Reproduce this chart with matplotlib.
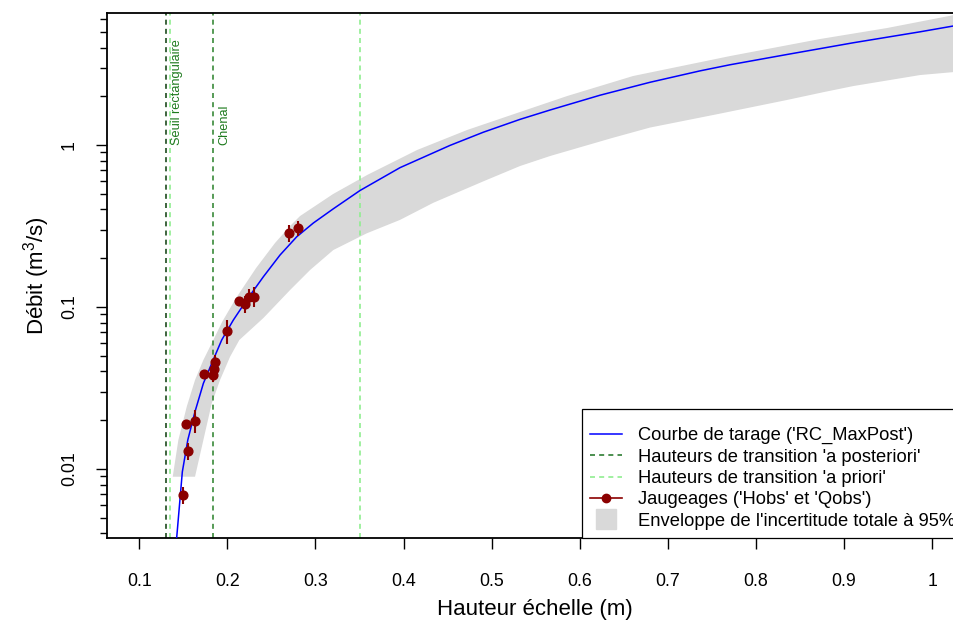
import matplotlib
matplotlib.use("Agg")
import matplotlib.pyplot as plt
from matplotlib.lines import Line2D
from matplotlib.ticker import FixedLocator, NullFormatter

plt.rcParams['font.family'] = ['Liberation Sans', 'DejaVu Sans']

# gaugings (Hobs, Qobs) and their uncertainty (half width, % of Q)
h_obs = [0.1497, 0.1550, 0.1535, 0.1630, 0.1736, 0.1834, 0.1853, 0.1864,
         0.1997, 0.2137, 0.2198, 0.2250, 0.2300, 0.2700, 0.2799]
q_obs = [0.00692, 0.0130, 0.0190, 0.0199, 0.0387, 0.0380, 0.0412, 0.0457,
         0.0714, 0.1094, 0.1045, 0.1148, 0.1158, 0.2877, 0.3076]
u_obs = [12, 12, 5, 16, 5, 9, 12, 10, 17, 5, 12, 12, 14, 12, 11]

# maxpost rating curve
h_rc = [0.1420, 0.1489, 0.1551, 0.1633, 0.1728, 0.1823, 0.1936, 0.2068, 0.2220,
        0.2409, 0.2598, 0.2788, 0.2976, 0.3203, 0.3506, 0.3960, 0.4528, 0.4906,
        0.5322, 0.5663, 0.6230, 0.6798, 0.7366, 0.7706, 0.8350, 0.9106, 0.9863,
        1.0248]
q_rc = [0.0035, 0.0096, 0.0151, 0.0226, 0.0338, 0.0449, 0.0626, 0.0831, 0.1105,
        0.1538, 0.2094, 0.2716, 0.330, 0.404, 0.524, 0.725, 0.995, 1.20,
        1.44, 1.645, 2.03, 2.44, 2.87, 3.13, 3.62, 4.28, 5.00, 5.44]

# 95% total uncertainty envelope
h_env_up = [0.1380, 0.1444, 0.1539, 0.1633, 0.1728, 0.1841, 0.1940, 0.2099,
            0.2326, 0.2541, 0.2712, 0.2825, 0.3200, 0.3586, 0.4153, 0.4721,
            0.5322, 0.5856, 0.6605, 0.7706, 0.8727, 0.9488, 1.0248]
q_env_up = [0.00896, 0.0151, 0.02424, 0.03542, 0.04709, 0.06256, 0.0808, 0.1136,
            0.174, 0.2484, 0.3162, 0.3644, 0.4982, 0.6528, 0.9314, 1.238,
            1.599, 2.006, 2.667, 3.542, 4.512, 5.276, 6.346]
h_env_low = [0.1633, 0.1728, 0.1823, 0.1917, 0.2031, 0.2136, 0.2409, 0.2712,
             0.2939, 0.3203, 0.3582, 0.3960, 0.4338, 0.4914, 0.5322, 0.5663,
             0.6367, 0.6798, 0.7570, 0.8350, 0.8773, 0.9106, 0.9863, 1.0248]
q_env_low = [0.00896, 0.0151, 0.02544, 0.03542, 0.04933, 0.06256, 0.08551, 0.1273,
             0.1692, 0.2248, 0.285, 0.345, 0.440, 0.5995, 0.7419, 0.8553,
             1.105, 1.282, 1.554, 1.896, 2.124, 2.313, 2.704, 2.822]

# transition heights
h_post = [0.130, 0.1838]
h_prior = [0.135, 0.350]
seg_names = ["Seuil rectangulaire", "Chenal"]

x_ticks = [0.1, 0.2, 0.3, 0.4, 0.5, 0.6, 0.7, 0.8, 0.9, 1.0]
x_labels = ["0.1", "0.2", "0.3", "0.4", "0.5", "0.6", "0.7", "0.8", "0.9", "1"]
y_ticks = [0.01, 0.1, 1]
y_labels = ["0.01", "0.1", "1"]
y_minor = [0.004, 0.005, 0.006, 0.007, 0.008, 0.009,
           0.02, 0.03, 0.04, 0.05, 0.06, 0.07, 0.08, 0.09,
           0.2, 0.3, 0.4, 0.5, 0.6, 0.7, 0.8, 0.9,
           2, 3, 4, 5, 6]

dash = (0, (3, 2.5))
c_post = ['#1c4a1c', '#3a8a3a']
c_prior = '#90EE90'
c_obs = '#8B0000'
c_env = '#D9D9D9'

fig = plt.figure(figsize=(9.54, 6.23), dpi=100)
# right edge of the plot box lies just outside the picture
ax = fig.add_axes([107/954, 85/623, 856/954, 525.3/623])

ax.fill(h_env_up + h_env_low[::-1], q_env_up + q_env_low[::-1],
        color=c_env, lw=0, zorder=1)
ax.plot(h_rc, q_rc, color='blue', lw=1.1, zorder=3)

for x in h_prior:
    ax.axvline(x, color=c_prior, ls=dash, lw=1.2, zorder=2)
for x, c in zip(h_post, c_post):
    ax.axvline(x, color=c, ls=dash, lw=1.2, zorder=2)
for x, name in zip(h_post, seg_names):
    ax.text(x + 0.0128, 1.0, name, rotation=90, ha='center', va='bottom',
            color='#1d7a1d', fontsize=9.2)

err_lo = [q * u / 100 for q, u in zip(q_obs, u_obs)]
err_hi = [q * u / 100 for q, u in zip(q_obs, u_obs)]
ax.errorbar(h_obs, q_obs, yerr=[err_lo, err_hi], fmt='o', color=c_obs,
            ms=6.3, elinewidth=1.5, capsize=0, zorder=5)

ax.set_yscale('log')
ax.set_xlim(0.0634, 1.035)
ax.set_ylim(0.00375, 6.56)

ax.set_xticks(x_ticks, x_labels)
ax.set_yticks(y_ticks, y_labels, rotation=90, va='center')
ax.yaxis.set_minor_locator(FixedLocator(y_minor))
ax.yaxis.set_minor_formatter(NullFormatter())
ax.tick_params(axis='both', which='major', direction='out', length=8,
               width=1.0, labelsize=12.8)
ax.tick_params(axis='x', which='major', pad=17.5)
ax.tick_params(axis='y', which='major', pad=13)
ax.tick_params(axis='y', which='minor', direction='out', length=4.8, width=1.0)
for s in ax.spines.values():
    s.set_linewidth(1.3)

ax.set_xlabel("Hauteur échelle (m)", fontsize=16)
ax.xaxis.label.set_va('center')
ax.xaxis.set_label_coords(0.5, -72/525.3)
ax.set_ylabel("Débit (m$\\mathregular{^3}$/s)", fontsize=16)
ax.yaxis.label.set_va('center')
ax.yaxis.set_label_coords(-70/856, 0.5)

handles = [
    Line2D([], [], color='blue', lw=1.1),
    Line2D([], [], color='#2e7d32', ls=dash, lw=1.2),
    Line2D([], [], color=c_prior, ls=dash, lw=1.2),
    Line2D([], [], color=c_obs, lw=1.2, marker='o', ms=6),
    Line2D([], [], color=c_env, marker='s', ms=14.5, ls='none'),
]
labels = ["Courbe de tarage ('RC_MaxPost')",
          "Hauteurs de transition 'a posteriori'",
          "Hauteurs de transition 'a priori'",
          "Jaugeages ('Hobs' et 'Qobs')",
          "Enveloppe de l'incertitude totale à 95%"]
# blank small title: gives the extra room above the first entry
leg = ax.legend(handles, labels, loc='lower right', bbox_to_anchor=(1, 0),
                borderaxespad=0, fontsize=13.2, handlelength=1.74,
                handletextpad=0.87, borderpad=0.45, labelspacing=0.24,
                fancybox=False, framealpha=1, edgecolor='black',
                title=' ', title_fontsize=3.5)
leg.get_frame().set_linewidth(0.9)

fig.savefig('out.png', dpi=100)
